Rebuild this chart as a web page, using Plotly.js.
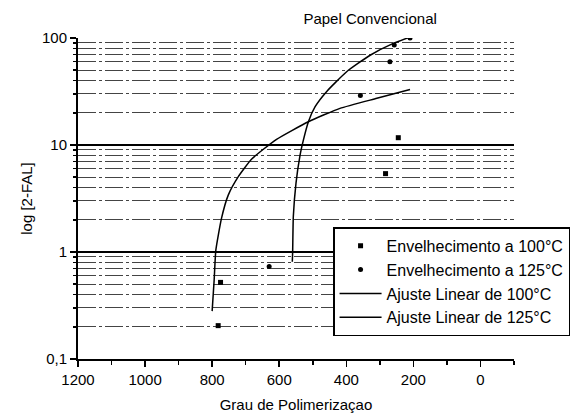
<!DOCTYPE html>
<html>
<head>
<meta charset="utf-8">
<script src="https://cdn.plot.ly/plotly-3.0.1.min.js"></script>
<style>html,body{margin:0;padding:0;background:#fff;}#chart{width:584px;height:414px;}</style>
</head>
<body>
<div id="chart"></div>
<script>
// Data
const dp100 = [782, 775, 283, 245];
const fal100 = [0.205, 0.52, 5.4, 11.7];
const dp125 = [630, 358, 270, 257, 210];
const fal125 = [0.73, 29, 60, 86, 100];
const fitDp100 = [800, 794, 789, 772, 752, 722, 682, 608, 513, 419, 309, 210];
const fitFal100 = [0.28, 0.55, 1.04, 2.07, 3.4, 5.06, 7.4, 11.3, 16.5, 22, 27.3, 33];
const fitDp125 = [561, 560, 558, 550, 538, 528, 513, 493, 459, 399, 329, 260, 185];
const fitFal125 = [0.81, 1.0, 2.14, 4.4, 8.0, 11.1, 16.5, 22.8, 31.5, 48.4, 69, 89, 109];
const yTickVals = [0.1, 1, 10, 100];
const yTickText = ['0,1', '1', '10', '100'];
const yMinorVals = [0.2,0.3,0.4,0.5,0.6,0.7,0.8,0.9,2,3,4,5,6,7,8,9,20,30,40,50,60,70,80,90];
const xTickVals = [1200, 1000, 800, 600, 400, 200, 0];

const traces = [
  {x: dp100, y: fal100, mode: 'markers', type: 'scatter', name: 'Envelhecimento a 100°C',
   marker: {symbol: 'square', size: 5, color: '#000'}},
  {x: dp125, y: fal125, mode: 'markers', type: 'scatter', name: 'Envelhecimento a 125°C',
   marker: {symbol: 'circle', size: 5, color: '#000'}},
  {x: fitDp100, y: fitFal100, mode: 'lines', type: 'scatter', name: 'Ajuste Linear de 100°C',
   line: {color: '#000', width: 1.5, shape: 'spline', smoothing: 0.5}},
  {x: fitDp125, y: fitFal125, mode: 'lines', type: 'scatter', name: 'Ajuste Linear de 125°C',
   line: {color: '#000', width: 1.5, shape: 'spline', smoothing: 0.5}}
];

const layout = {
  width: 584, height: 414,
  margin: {l: 78, r: 70, t: 38, b: 55},
  paper_bgcolor: '#fff', plot_bgcolor: '#fff',
  font: {family: 'Liberation Sans, Arial, sans-serif', size: 15, color: '#000'},
  title: {text: 'Papel Convencional', x: 0.67, xanchor: 'center', xref: 'paper',
          y: 0.955, yanchor: 'middle', font: {size: 15, color: '#000'}},
  showlegend: true,
  legend: {x: 0.585, y: 0.41, xanchor: 'left', yanchor: 'top', bgcolor: '#fff',
           bordercolor: '#000', borderwidth: 1.5, font: {size: 16, color: '#000'},
           tracegroupgap: 0, itemwidth: 42},
  xaxis: {range: [1200, -100], tickvals: xTickVals, ticks: 'outside', ticklen: 6, tickwidth: 1.5,
          tickcolor: '#000', showline: true, linecolor: '#000', linewidth: 2, showgrid: false,
          zeroline: false, minor: {dtick: 100, ticks: 'outside', ticklen: 4, tickcolor: '#000', showgrid: false},
          tickfont: {size: 15}, title: {text: 'Grau de Polimerizaçao', standoff: 12, font: {size: 15}}},
  yaxis: {type: 'log', range: [-1, 2], tickvals: yTickVals, ticktext: yTickText, ticks: 'outside',
          ticklen: 6, tickwidth: 1.5, tickcolor: '#000', showline: true, linecolor: '#000', linewidth: 2,
          showgrid: true, gridcolor: '#000', gridwidth: 1.2, zeroline: false,
          minor: {tickvals: yMinorVals, ticks: 'outside', ticklen: 3, tickcolor: '#000',
                  showgrid: true, gridcolor: '#444', gridwidth: 1, griddash: '18px,3px,3px,3px'},
          tickfont: {size: 15}, title: {text: 'log [2-FAL]', standoff: 6, font: {size: 15}}}
};

Plotly.newPlot('chart', traces, layout, {displayModeBar: false, staticPlot: true});
</script>
</body>
</html>
